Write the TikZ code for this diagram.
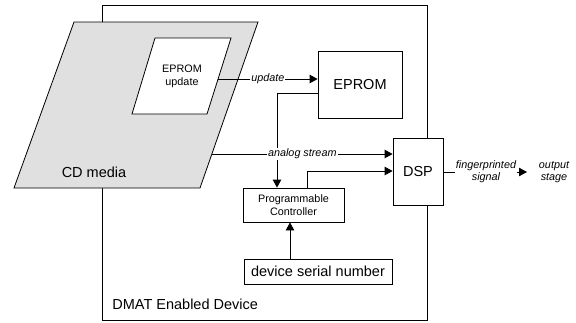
\documentclass[tikz,border=0pt]{standalone}
\usepackage{fontspec}
\setmainfont{Liberation Sans}
\usetikzlibrary{arrows.meta}
\definecolor{cdgray}{RGB}{224,224,224}
\begin{document}
\begin{tikzpicture}[x=1pt,y=-1pt,
  line width=0.8pt,
  box/.style={draw, inner sep=0pt, align=center},
  bigtxt/.style={font=\fontsize{14.5}{17}\selectfont},
  smalltxt/.style={font=\fontsize{10.8}{13}\selectfont, align=center},
  lab/.style={font=\fontsize{10.8}{12}\itshape\selectfont, fill=white, inner sep=1pt, align=center},
  arr/.style={-{Triangle[length=8pt,width=8.5pt]}}]
\useasboundingbox (0,0) rectangle (576,322);
% device outline
\node[box, anchor=north west, minimum width=325pt, minimum height=315pt] (dev) at (102,5) {};
\node[bigtxt, anchor=west, inner sep=0pt] (devlab) at (112,304) {DMAT Enabled Device};
% CD media
\draw[fill=cdgray] (74,22) -- (258,22) -- (200,188) -- (14,188) -- cycle;
\node[bigtxt] (cd) at (94,172) {CD media};
\draw[fill=white] (155,38) -- (231,38) -- (207,114) -- (132,114) -- cycle;
\node[smalltxt] (epu) at (182,76.5) {EPROM\\update};
\coordinate (upd) at (218,79);
\coordinate (ana) at (212,154);
% boxes
\node[box, bigtxt, minimum width=84pt, minimum height=67pt] (eprom) at (360,84.5) {EPROM};
\node[box, bigtxt, minimum width=50pt, minimum height=67pt, fill=white] (dsp) at (418,171.5) {DSP};
\node[box, smalltxt, minimum width=101pt, minimum height=34pt] (pc) at (293.5,205) {Programmable\\Controller};
\node[box, bigtxt, minimum width=148pt, minimum height=25pt] (dsn) at (318,271.5) {device serial number};
% connectors
\draw[arr] (upd) -- node[lab] {update} (upd -| eprom.west);
\draw[arr] (eprom.west |- 0,93) -- (277,93) -- (pc.north -| 277,0);
\draw[arr] (ana) -- node[lab] {analog stream} (ana -| dsp.west);
\draw[arr] (pc.north -| 307,0) -- (307,171) -- (dsp.west |- 0,171);
\draw[arr] (dsn.north -| 290,0) -- (pc.south -| 290,0);
\coordinate (outtip) at (527,172);
\draw[arr] (dsp.east |- 0,172) -- (outtip);
\node[lab] (fp) at (486,172) {fingerprinted\\signal};
\node[smalltxt, font=\fontsize{10.8}{12}\itshape\selectfont] (out) at (554,172) {output\\stage};
\end{tikzpicture}
\end{document}
